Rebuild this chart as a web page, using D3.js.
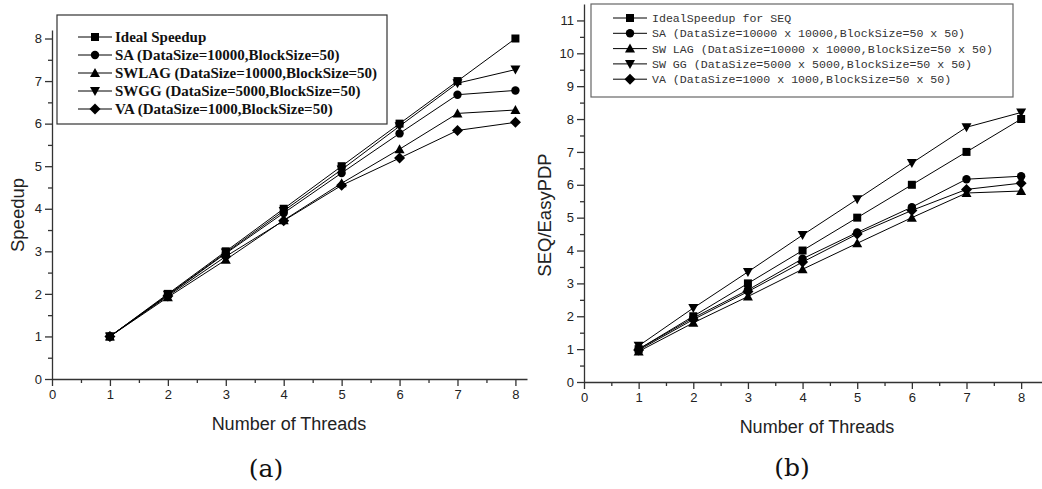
<!DOCTYPE html>
<html>
<head>
<meta charset="utf-8">
<script src="https://cdn.jsdelivr.net/npm/d3@7"></script>
<style>
  body { margin: 0; background: #fff; }
  svg { display: block; }
  .domain, .tick line { stroke: #333; stroke-width: 1.3; }
</style>
</head>
<body>
<div id="chart"></div>
<script>
// data
const threads = [1, 2, 3, 4, 5, 6, 7, 8];

const namesA = [
  "Ideal Speedup",
  "SA (DataSize=10000,BlockSize=50)",
  "SWLAG (DataSize=10000,BlockSize=50)",
  "SWGG (DataSize=5000,BlockSize=50)",
  "VA (DataSize=1000,BlockSize=50)"
];
const idealA = [1, 2, 3, 4, 5, 6, 7, 8];
const saA    = [1, 1.97, 2.95, 3.9, 4.84, 5.77, 6.68, 6.78];
const swlagA = [1, 1.92, 2.8, 3.73, 4.6, 5.4, 6.24, 6.32];
const swggA  = [1, 1.98, 2.97, 3.95, 4.92, 5.94, 6.95, 7.27];
const vaA    = [1, 1.95, 2.88, 3.72, 4.55, 5.19, 5.84, 6.03];

const namesB = [
  "IdealSpeedup for SEQ",
  "SA (DataSize=10000 x 10000,BlockSize=50 x 50)",
  "SW LAG (DataSize=10000 x 10000,BlockSize=50 x 50)",
  "SW GG (DataSize=5000 x 5000,BlockSize=50 x 50)",
  "VA (DataSize=1000 x 1000,BlockSize=50 x 50)"
];
const idealB = [1, 2, 3, 4, 5, 6, 7, 8];
const saB    = [1.0, 1.95, 2.8, 3.75, 4.55, 5.32, 6.17, 6.26];
const swlagB = [0.93, 1.8, 2.6, 3.43, 4.22, 5.0, 5.75, 5.81];
const swggB  = [1.1, 2.25, 3.35, 4.47, 5.56, 6.66, 7.75, 8.2];
const vaB    = [0.97, 1.9, 2.75, 3.65, 4.5, 5.22, 5.86, 6.05];

const markers = ["square", "circle", "up", "down", "diamond"];

const svg = d3.select("#chart").append("svg")
    .attr("width", 1042)
    .attr("height", 489);

function marker(g, type, x, y) {
  let d;
  if (type === "up") d = `M${x},${y - 5}L${x + 5},${y + 4}L${x - 5},${y + 4}Z`;
  else if (type === "down") d = `M${x},${y + 5}L${x + 5},${y - 4}L${x - 5},${y - 4}Z`;
  else if (type === "diamond") d = `M${x},${y - 5.5}L${x + 5.5},${y}L${x},${y + 5.5}L${x - 5.5},${y}Z`;
  else if (type === "square") d = `M${x - 4},${y - 4}h8v8h-8Z`;
  if (type === "circle") {
    g.append("circle").attr("cx", x).attr("cy", y).attr("r", 4.2).attr("fill", "#000");
  } else {
    g.append("path").attr("d", d).attr("fill", "#000");
  }
}

function styleTicks(a) {
  a.selectAll("text")
    .attr("font-family", "Liberation Sans, Arial, sans-serif")
    .attr("font-size", 13)
    .attr("fill", "#222");
}

function panel(opt) {
  const x = d3.scaleLinear().domain(opt.xDomain).range(opt.xRange);
  const y = d3.scaleLinear().domain(opt.yDomain).range(opt.yRange);
  const g = svg.append("g");

  // minor ticks
  g.append("g")
    .attr("transform", `translate(0,${opt.yRange[0]})`)
    .call(d3.axisBottom(x).tickValues(d3.range(0.5, opt.xDomain[1], 1)).tickSize(4).tickFormat(""))
    .call(a => a.select(".domain").remove());
  g.append("g")
    .attr("transform", `translate(${opt.xRange[0]},0)`)
    .call(d3.axisLeft(y).tickValues(d3.range(0.5, opt.yDomain[1], 1)).tickSize(4).tickFormat(""))
    .call(a => a.select(".domain").remove());

  // major axes
  g.append("g")
    .attr("transform", `translate(0,${opt.yRange[0]})`)
    .call(d3.axisBottom(x).tickValues(d3.range(0, Math.floor(opt.xDomain[1]) + 1)).tickSize(7).tickSizeOuter(0).tickPadding(4))
    .call(styleTicks);
  g.append("g")
    .attr("transform", `translate(${opt.xRange[0]},0)`)
    .call(d3.axisLeft(y).tickValues(d3.range(0, Math.floor(opt.yDomain[1]) + 1)).tickSize(7).tickSizeOuter(0).tickPadding(3))
    .call(styleTicks);

  // axis titles
  g.append("text")
    .attr("x", opt.xTitle[0]).attr("y", opt.xTitle[1])
    .attr("text-anchor", "middle")
    .style("font-family", "Liberation Sans, Arial, sans-serif").style("font-size", "18px").style("fill", "#222")
    .text("Number of Threads");
  g.append("text")
    .attr("transform", `translate(${opt.yTitle[0]},${opt.yTitle[1]}) rotate(-90)`)
    .attr("text-anchor", "middle")
    .style("font-family", "Liberation Sans, Arial, sans-serif").style("font-size", "18.5px").style("fill", "#222")
    .text(opt.yLabel);

  // caption
  g.append("text")
    .attr("x", opt.caption[0]).attr("y", opt.caption[1])
    .attr("text-anchor", "middle")
    .style("font-family", "DejaVu Serif, serif").style("font-size", "25px").style("fill", "#111")
    .text(opt.captionText);

  // lines and markers
  const line = d3.line().x((d, i) => x(threads[i])).y(d => y(d));
  opt.series.forEach((s, k) => {
    g.append("path").datum(s)
      .attr("fill", "none").attr("stroke", "#000").attr("stroke-width", 1)
      .attr("d", line);
    s.forEach((v, i) => marker(g, markers[k], x(threads[i]), y(v)));
  });

  // legend
  const L = opt.legend;
  g.append("rect")
    .attr("x", L.x).attr("y", L.y).attr("width", L.w).attr("height", L.h)
    .attr("fill", "#fff").attr("stroke", L.stroke).attr("stroke-width", 1.2);
  opt.names.forEach((name, k) => {
    const yy = L.rowY + k * L.step;
    g.append("line")
      .attr("x1", L.lineX).attr("x2", L.lineX + 34).attr("y1", yy).attr("y2", yy)
      .attr("stroke", "#000").attr("stroke-width", 1);
    marker(g, markers[k], L.lineX + 17, yy);
    g.append("text")
      .attr("x", L.textX).attr("y", yy).attr("dy", "0.35em")
      .style("font-family", L.font).style("font-size", L.size).style("font-weight", L.weight)
      .style("fill", L.color)
      .text(name);
  });
}

panel({
  xDomain: [0, 8.2], xRange: [52, 527],
  yDomain: [0, 8.2], yRange: [379, 30],
  xTitle: [289, 430], yTitle: [24, 215], yLabel: "Speedup",
  caption: [266, 477], captionText: "(a)",
  series: [idealA, saA, swlagA, swggA, vaA],
  names: namesA,
  legend: { x: 57, y: 15, w: 330, h: 109, stroke: "#333", rowY: 37, step: 18, lineX: 78, textX: 115,
            font: "Liberation Serif, Times New Roman, serif", size: "15px", weight: "bold", color: "#111" }
});

panel({
  xDomain: [0, 8.4], xRange: [584, 1043],
  yDomain: [0, 11.5], yRange: [382, 4],
  xTitle: [817, 433], yTitle: [551, 215], yLabel: "SEQ/EasyPDP",
  caption: [792, 476], captionText: "(b)",
  series: [idealB, saB, swlagB, swggB, vaB],
  names: namesB,
  legend: { x: 591, y: 4, w: 422, h: 93, stroke: "#666", rowY: 18, step: 15.3, lineX: 613, textX: 652,
            font: "Liberation Mono, Courier New, monospace", size: "11.6px", weight: "normal", color: "#333" }
});
</script>
</body>
</html>
